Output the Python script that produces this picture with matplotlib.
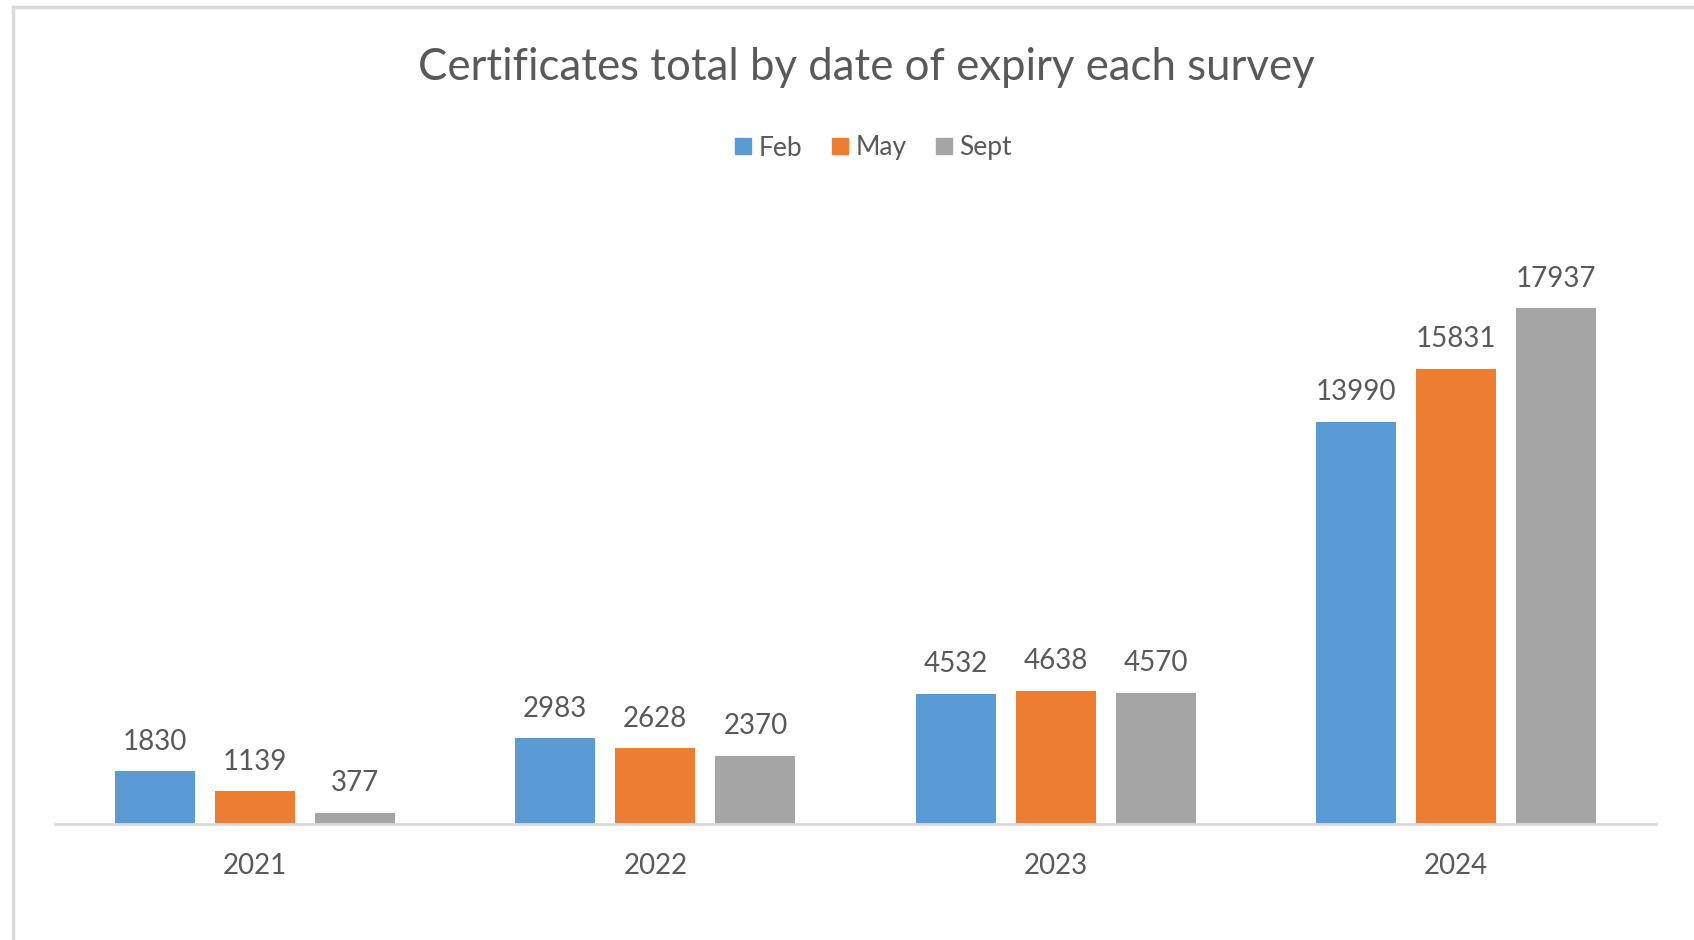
import matplotlib.pyplot as plt
import numpy as np
from matplotlib.lines import Line2D

years = ["2021", "2022", "2023", "2024"]
series = ["Feb", "May", "Sept"]
feb = [1830, 2983, 4532, 13990]
may = [1139, 2628, 4638, 15831]
sept = [377, 2370, 4570, 17937]
colors = ["#5B9BD5", "#ED7D31", "#A5A5A5"]
text_color = "#595959"

plt.rcParams["font.family"] = ["Lato", "DejaVu Sans"]

W, H = 1694, 940
fig = plt.figure(figsize=(W / 100, H / 100), dpi=100)
ax = fig.add_axes([55 / W, 1 - 824 / H, (1656 - 55) / W, 575 / H])

x = np.arange(len(years))
width = 0.2
step = 0.25
for i, (name, vals) in enumerate(zip(series, [feb, may, sept])):
    bars = ax.bar(x + (i - 1) * step, vals, width, color=colors[i], label=name)
    for b, v in zip(bars, vals):
        ax.annotate(str(v), (b.get_x() + b.get_width() / 2, v),
                    xytext=(0, 12), textcoords="offset points",
                    ha="center", va="bottom", fontsize=20, color=text_color)

ax.set_xlim(-0.5, len(years) - 0.5)
ax.set_ylim(0, 20000)
ax.set_xticks(x)
ax.set_xticklabels(years, fontsize=20, color=text_color)
ax.tick_params(axis="x", length=0, pad=21)
ax.set_yticks([])
for s in ["top", "right", "left"]:
    ax.spines[s].set_visible(False)
ax.spines["bottom"].set_color("#D9D9D9")
ax.spines["bottom"].set_linewidth(2)

fig.text(866 / W, 1 - 68 / H, "Certificates total by date of expiry each survey",
         ha="center", va="center", fontsize=31.5, color=text_color)

handles = [Line2D([], [], marker="s", linestyle="none", markersize=11,
                  markerfacecolor=c, markeredgecolor=c) for c in colors]
fig.legend(handles, series, loc="center", bbox_to_anchor=(871 / W, 1 - 148 / H),
           ncol=3, frameon=False, fontsize=19, labelcolor=text_color,
           handletextpad=0.1, columnspacing=0.9, handlelength=1.0)

# outer frame (left and top edges visible)
fig.add_artist(Line2D([12.5 / W, 12.5 / W], [0, 1 - 7 / H], transform=fig.transFigure,
                      color="#D9D9D9", linewidth=2.5))
fig.add_artist(Line2D([12.5 / W, 1], [1 - 7 / H, 1 - 7 / H], transform=fig.transFigure,
                      color="#D9D9D9", linewidth=2.5))

fig.savefig("out.png", dpi=100, facecolor="white")
